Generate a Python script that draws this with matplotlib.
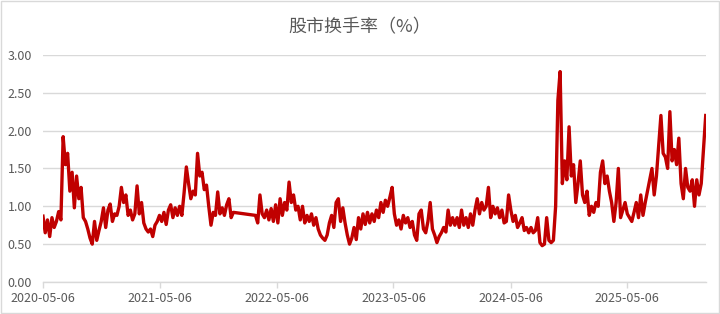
import pandas as pd
import matplotlib
matplotlib.use("Agg")
import matplotlib.pyplot as plt
import matplotlib.dates as mdates
from matplotlib.patches import Rectangle

plt.rcParams['font.family'] = ['Noto Sans CJK SC', 'DejaVu Sans']

# --- data (weekly readings of turnover, %) ---
title = "股市换手率（%）"

# first block: weekly from 2020-05-06 to 2021-12-22
start_1 = "2020-05-06"
turnover_1 = [
    0.87, 0.65, 0.82, 0.60, 0.85, 0.72, 0.80, 0.93, 0.82, 1.92,
    1.55, 1.70, 1.20, 1.45, 0.98, 1.40, 1.10, 1.25, 0.85, 0.80,
    0.70, 0.58, 0.50, 0.80, 0.55, 0.68, 0.80, 0.98, 0.72, 0.95,
    1.03, 0.80, 0.90, 0.88, 1.00, 1.25, 1.05, 1.15, 0.88, 0.95,
    0.82, 0.90, 1.27, 0.90, 1.05, 0.78, 0.70, 0.66, 0.70, 0.60,
    0.75, 0.80, 0.88, 0.80, 0.92, 0.76, 0.95, 1.02, 0.85, 0.98,
    0.88, 1.00, 0.88, 1.18, 1.52, 1.30, 1.10, 1.20, 1.15, 1.70,
    1.40, 1.45, 1.22, 1.28, 1.00, 0.75, 0.92, 0.88, 1.19, 0.90,
    0.98, 0.88, 1.02, 1.10, 0.85, 0.92,
]

# second block: weekly from 2022-03-01 onwards (gap before it)
start_2 = "2022-03-01"
turnover_2 = [
    0.88, 0.78, 1.15, 0.90, 0.85, 0.95, 0.82, 0.97, 0.80, 1.02,
    0.78, 1.10, 0.88, 1.05, 0.95, 1.32, 1.05, 1.15, 0.95, 1.00,
    0.82, 1.00, 0.78, 0.88, 0.80, 0.90, 0.75, 0.85, 0.70, 0.62,
    0.58, 0.55, 0.62, 0.78, 0.88, 0.72, 1.05, 1.10, 0.80, 0.98,
    0.78, 0.62, 0.50, 0.58, 0.72, 0.56, 0.85, 0.70, 0.90, 0.76,
    0.92, 0.78, 0.90, 0.80, 0.95, 0.85, 1.05, 0.92, 1.08, 1.00,
    1.12, 1.25, 0.90, 0.75, 0.82, 0.70, 0.88, 0.78, 0.85, 0.72,
    0.80, 0.62, 0.55, 0.90, 0.95, 0.70, 0.65, 0.80, 1.05, 0.70,
    0.62, 0.52, 0.60, 0.65, 0.72, 0.66, 0.95, 0.75, 0.85, 0.75,
    0.85, 0.72, 0.95, 0.75, 0.85, 0.72, 0.90, 0.75, 0.95, 1.10,
    0.90,
    1.05, 0.95, 1.00, 1.25, 0.85, 1.00, 0.90, 0.98, 0.85, 0.95,
    0.78, 0.80, 1.15, 0.95, 0.80, 0.88, 0.72, 0.78, 0.85, 0.68,
    0.72, 0.65, 0.72, 0.65, 0.68, 0.85, 0.52, 0.48, 0.50, 0.85,
    0.55, 0.52, 0.55, 1.00, 2.40, 2.78, 1.30, 1.60, 1.35, 2.05,
    1.40, 1.55, 1.05, 1.30, 1.60, 1.15, 1.05, 1.20, 0.88, 1.00,
    0.92, 1.05, 1.00, 1.45, 1.60, 1.30, 1.40, 1.20, 1.05, 0.80,
    1.05, 1.50, 0.85, 0.95, 1.05, 0.90, 0.85, 0.80, 0.92, 1.05,
    0.85, 1.15, 0.88, 1.05, 1.20, 1.35, 1.50, 1.15, 1.40, 1.80,
    2.20, 1.70, 1.65, 1.50, 2.25, 1.60, 1.75, 1.55, 1.90, 1.30,
    1.10, 1.50, 1.25, 1.20, 1.35, 1.00, 1.35, 1.15, 1.30, 1.75,
    2.20,
]

tick_dates = ["2020-05-06", "2021-05-06", "2022-05-06",
              "2023-05-06", "2024-05-06", "2025-05-06"]
y_ticks = [0.0, 0.5, 1.0, 1.5, 2.0, 2.5, 3.0]

# --- build series ---
dates = list(pd.date_range(start_1, periods=len(turnover_1), freq="7D")) + \
        list(pd.date_range(start_2, periods=len(turnover_2), freq="7D"))
values = turnover_1 + turnover_2

grey = "#595959"
grid = "#d9d9d9"

fig = plt.figure(figsize=(7.2, 3.14), dpi=100)
ax = fig.add_axes([0.0597, 0.102, 0.9209, 0.723])

ax.plot(dates, values, color="#C00000", lw=2.4, solid_joinstyle="round")

ax.set_ylim(0, 3.0)
ax.set_yticks(y_ticks)
ax.yaxis.set_major_formatter(matplotlib.ticker.FormatStrFormatter("%.2f"))
ax.set_xlim(pd.Timestamp(start_1), dates[-1] + pd.Timedelta(days=1))
ax.set_xticks([pd.Timestamp(d) for d in tick_dates])
ax.xaxis.set_major_formatter(mdates.DateFormatter("%Y-%m-%d"))

ax.grid(axis="y", color=grid, lw=1.0)
ax.set_axisbelow(True)
for s in ["top", "right", "left"]:
    ax.spines[s].set_visible(False)
ax.spines["bottom"].set_color(grid)
ax.spines["bottom"].set_linewidth(1.0)

ax.tick_params(axis="y", length=0, pad=8, labelsize=9, labelcolor=grey)
ax.tick_params(axis="x", length=4, width=1, color=grid, pad=3,
               labelsize=9, labelcolor=grey)

fig.text(0.5, 0.914, title, ha="center", va="center", fontsize=13, color=grey)

# chart area border
fig.patches.append(Rectangle((0.001, 0.002), 0.997, 0.995, transform=fig.transFigure,
                             fill=False, edgecolor=grid, lw=1.0))

fig.savefig("out.png", dpi=100)
